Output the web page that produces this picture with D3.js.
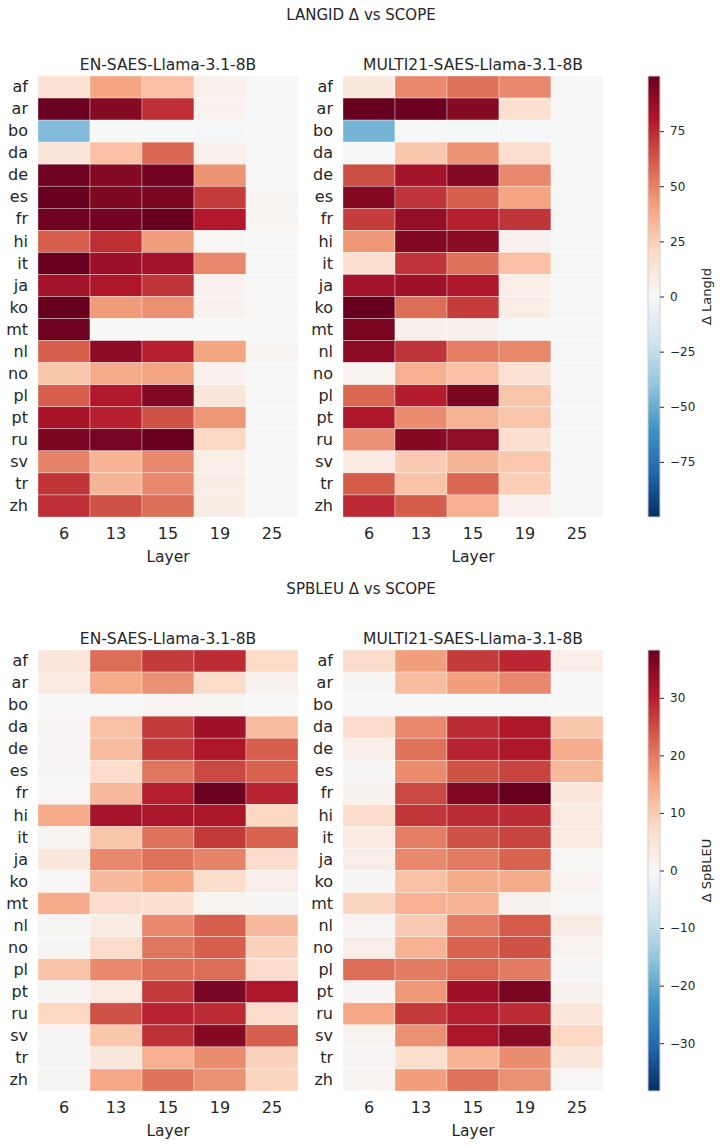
<!DOCTYPE html>
<html>
<head>
<meta charset="utf-8">
<script src="https://cdn.jsdelivr.net/npm/d3@7"></script>
<style>
  body { margin: 0; background: #fff; }
  text { font-family: "DejaVu Sans", sans-serif; fill: #262626; }
</style>
</head>
<body>
<div id="chart"></div>
<script>
// rows and columns
var langs = ["af", "ar", "bo", "da", "de", "es", "fr", "hi", "it", "ja",
             "ko", "mt", "nl", "no", "pl", "pt", "ru", "sv", "tr", "zh"];
var layers = ["6", "13", "15", "19", "25"];

// Δ LangId, one row per language, one value per layer
var langidEn = [
    [15, 40, 30, 5, 0.5], [99, 92, 74, 4, 0.5], [-44, -0.5, -1, -1, -1],
    [13, 30, 58, 5, 0.5], [98, 92, 97, 45, 1], [100, 94, 95, 70, 2],
    [98, 97, 100, 80, 2], [60, 74, 42, 1, 0.5], [100, 86, 84, 48, 1],
    [84, 81, 72, 4, 0.5], [100, 43, 46, 4, 1], [98, 0, 0, 0, 0],
    [60, 90, 78, 40, 2], [28, 38, 40, 4, 0.5], [60, 80, 93, 12, 0.5],
    [83, 78, 64, 44, 0.5], [95, 96, 100, 21, 0.5], [50, 34, 48, 7, 0.5],
    [72, 34, 48, 8, 0.5], [74, 64, 56, 8, 0.5]
];
var langidMulti = [
    [10, 48, 55, 48, 0.5], [100, 99, 92, 16, 0.5], [-47, -0.5, -1, -1, -0.5],
    [0, 28, 45, 18, 0.5], [65, 84, 92, 48, 0.5], [92, 72, 60, 40, 0.5],
    [70, 88, 78, 72, 0.5], [44, 93, 91, 4, 0.5], [16, 72, 55, 30, 0.5],
    [84, 85, 81, 7, 0.5], [100, 56, 70, 7, 0.5], [95, 6, 6, 0.5, 0.5],
    [90, 72, 51, 48, 0.5], [3, 36, 30, 15, 0.5], [58, 79, 95, 28, 0.5],
    [81, 47, 35, 28, 0.5], [46, 92, 89, 17, 0.5], [9, 26, 34, 27, 0.5],
    [61, 29, 58, 25, 0.5], [75, 61, 36, 4, 0.5]
];

// Δ SpBLEU
var spbleuEn = [
    [4.5, 21.5, 27, 28.5, 7.5], [3.5, 14.5, 17.5, 7, 1.5], [0, 0, 1, 0.5, 0],
    [0.7, 11.5, 27, 32.5, 12], [0.7, 12, 27, 31, 23], [0.5, 7, 20.5, 25.5, 22.5],
    [0.3, 12.5, 30, 38, 29.5], [14.5, 32, 31.5, 31.5, 8], [0.8, 10.5, 21, 27, 22.5],
    [4, 18.5, 21, 19, 7], [0.3, 12.5, 15.3, 7, 2.5], [14.5, 7, 6, 1, 0.5],
    [0.5, 3, 18.5, 23, 12.5], [0.5, 7, 20.5, 23, 9], [11, 18.5, 21.5, 21.5, 7],
    [0.5, 3.5, 27, 36.5, 31], [8, 24.5, 29.5, 28.5, 7], [0.5, 10.5, 28, 35, 23],
    [0.5, 4, 13.8, 18, 9], [0.5, 14.7, 21, 17.5, 8.5]
];
var spbleuMulti = [
    [7, 16, 27, 29, 2.5], [0.5, 12, 16, 18.5, 0], [0, 0, 0, 0, 0],
    [7, 18.5, 28.5, 31, 10.5], [2.5, 21, 29.5, 31, 14], [0.5, 18, 24.5, 26, 12.5],
    [1.5, 25.5, 35.5, 38.3, 4.5], [7, 27.5, 28.5, 28.5, 3.5], [3.5, 19.5, 24.5, 26, 3.5],
    [2.5, 18.5, 20, 22.5, 0.3], [0.5, 11.5, 14.3, 14.3, 1], [8.5, 13.5, 13.3, 1.5, 0.3],
    [0.7, 10, 20, 23.5, 3], [2.5, 13.2, 22.5, 24.5, 1.2], [21.5, 19.8, 22, 20, 0.5],
    [0.7, 16.7, 32.5, 36.3, 1.3], [14.8, 27, 30, 28.5, 4.5], [1.2, 17.5, 31.5, 34.8, 8],
    [0.7, 6.3, 13.2, 18, 4.5], [0.8, 16, 21, 17.5, 0.3]
];

var langidTicks = [-75, -50, -25, 0, 25, 50, 75];
var spbleuTicks = [-30, -20, -10, 0, 10, 20, 30];

var W = 722, H = 1146;
var svg = d3.select("#chart").append("svg")
    .attr("width", W)
    .attr("height", H);

// matplotlib RdBu_r: linear between the 11 ColorBrewer stops
function makeColor(vmax) {
    var stops = d3.range(11).map(i => -vmax + i * 2 * vmax / 10);
    return d3.scaleLinear()
        .domain(stops)
        .range(d3.schemeRdBu[11].slice().reverse())
        .interpolate(d3.interpolateRgb)
        .clamp(true);
}

function heatmap(g, title, data, left, top, color) {
    var x = d3.scaleBand().domain(layers).range([left, left + 260]);
    var y = d3.scaleBand().domain(langs).range([top, top + 441]);

    var cells = [];
    data.forEach((row, i) => row.forEach((v, j) => cells.push({ lang: langs[i], layer: layers[j], v: v })));

    g.append("g").selectAll("rect")
        .data(cells)
        .enter()
        .append("rect")
        .attr("x", d => x(d.layer))
        .attr("y", d => y(d.lang))
        .attr("width", x.bandwidth())
        .attr("height", y.bandwidth())
        .attr("fill", d => color(d.v))
        .attr("stroke", "rgba(255,255,255,0.55)")
        .attr("stroke-width", 0.6);

    var ax = g.append("g")
        .attr("transform", `translate(0,${top + 441})`)
        .call(d3.axisBottom(x).tickSize(0).tickPadding(11));
    ax.select(".domain").remove();
    ax.selectAll("text").style("font-size", "16px").attr("fill", "#262626");

    var ay = g.append("g")
        .attr("transform", `translate(${left},0)`)
        .call(d3.axisLeft(y).tickSize(0).tickPadding(10));
    ay.select(".domain").remove();
    ay.selectAll("text").style("font-size", "16px").attr("fill", "#262626");

    g.append("text")
        .attr("x", left + 130)
        .attr("y", top - 6)
        .attr("text-anchor", "middle")
        .style("font-size", "15.5px")
        .text(title);

    g.append("text")
        .attr("x", left + 130)
        .attr("y", top + 486)
        .attr("text-anchor", "middle")
        .style("font-size", "15.5px")
        .text("Layer");
}

function colorbar(g, id, vmax, ticks, label, top) {
    var left = 648, w = 12, h = 441;
    var grad = svg.append("defs").append("linearGradient")
        .attr("id", id)
        .attr("x1", 0).attr("y1", 1).attr("x2", 0).attr("y2", 0);
    d3.schemeRdBu[11].slice().reverse().forEach((c, i) => {
        grad.append("stop").attr("offset", i / 10).attr("stop-color", c);
    });
    g.append("rect")
        .attr("x", left).attr("y", top)
        .attr("width", w).attr("height", h)
        .attr("fill", `url(#${id})`)
        .attr("stroke", "#d0d0d0")
        .attr("stroke-width", 1);

    var s = d3.scaleLinear().domain([-vmax, vmax]).range([top + h, top]);
    var a = g.append("g")
        .attr("transform", `translate(${left + w},0)`)
        .call(d3.axisRight(s).tickValues(ticks).tickSize(4).tickPadding(6)
            .tickFormat(d => d < 0 ? "\u2212" + Math.abs(d) : d));
    a.select(".domain").remove();
    a.selectAll("line").attr("stroke", "#262626");
    a.selectAll("text").style("font-size", "12px").attr("fill", "#262626");

    g.append("text")
        .attr("transform", `translate(711,${top + h / 2}) rotate(-90)`)
        .attr("text-anchor", "middle")
        .style("font-size", "13px")
        .text(label);
}

// LANGID block
var top1 = 76;
var c1 = makeColor(100);
svg.append("text").attr("x", 361).attr("y", 20).attr("text-anchor", "middle")
    .style("font-size", "15px").text("LANGID \u0394 vs SCOPE");
heatmap(svg.append("g"), "EN-SAES-Llama-3.1-8B", langidEn, 38, top1, c1);
heatmap(svg.append("g"), "MULTI21-SAES-Llama-3.1-8B", langidMulti, 343, top1, c1);
colorbar(svg.append("g"), "cb1", 100, langidTicks, "\u0394 LangId", top1);

// SPBLEU block
var top2 = 650;
var c2 = makeColor(38.3);
svg.append("text").attr("x", 361).attr("y", 594).attr("text-anchor", "middle")
    .style("font-size", "15px").text("SPBLEU \u0394 vs SCOPE");
heatmap(svg.append("g"), "EN-SAES-Llama-3.1-8B", spbleuEn, 38, top2, c2);
heatmap(svg.append("g"), "MULTI21-SAES-Llama-3.1-8B", spbleuMulti, 343, top2, c2);
colorbar(svg.append("g"), "cb2", 38.3, spbleuTicks, "\u0394 SpBLEU", top2);
</script>
</body>
</html>
